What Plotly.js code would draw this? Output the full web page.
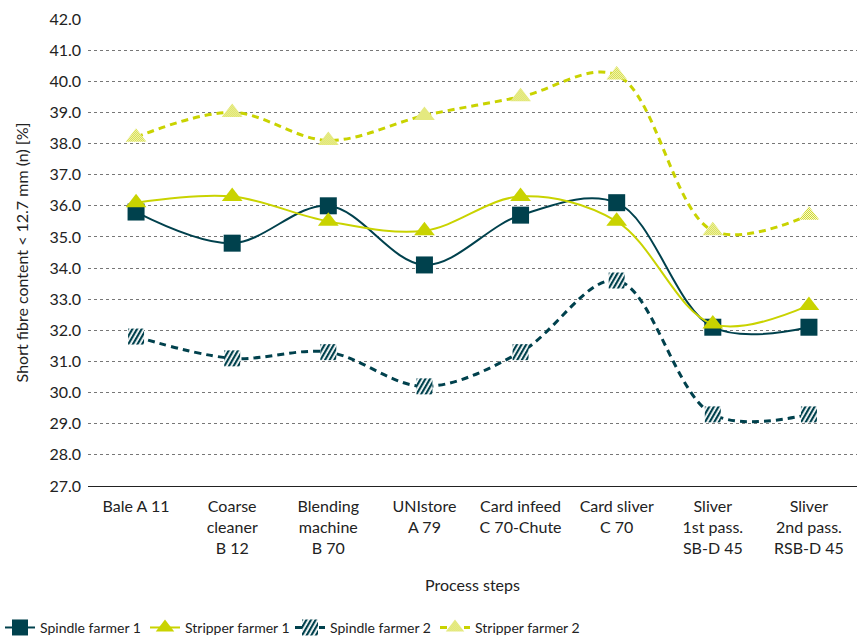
<!DOCTYPE html>
<html><head><meta charset="utf-8">
<script src="https://cdn.plot.ly/plotly-3.0.1.min.js"></script>
<style>html,body{margin:0;padding:0;background:#fff}#chart{width:864px;height:642px}</style>
</head><body>
<svg width="0" height="0" style="position:absolute">
  <defs>
    <pattern id="hatchTeal" patternUnits="userSpaceOnUse" width="4" height="4" patternTransform="rotate(30)">
      <rect x="0" y="0" width="4" height="4" fill="#ffffff"/>
      <rect x="0" y="0" width="2.2" height="4" fill="#00414d"/>
    </pattern>
    <pattern id="checkLime" patternUnits="userSpaceOnUse" width="2" height="2">
      <rect x="0" y="0" width="2" height="2" fill="#ffffff"/>
      <rect x="0" y="0" width="1" height="1" fill="#c9d300"/>
      <rect x="1" y="1" width="1" height="1" fill="#c9d300"/>
    </pattern>
  </defs>
</svg>
<div id="chart"></div>
<script>
const categories = ["Bale A 11","Coarse<br>cleaner<br>B 12","Blending<br>machine<br>B 70","UNIstore<br>A 79","Card infeed<br>C 70-Chute","Card sliver<br>C 70","Sliver<br>1st pass.<br>SB-D 45","Sliver<br>2nd pass.<br>RSB-D 45"];
const spindle1 = [35.8, 34.8, 36.0, 34.1, 35.7, 36.1, 32.1, 32.1];
const stripper1 = [36.1, 36.3, 35.5, 35.2, 36.3, 35.5, 32.2, 32.8];
const spindle2 = [31.8, 31.1, 31.3, 30.2, 31.3, 33.6, 29.3, 29.3];
const stripper2 = [38.2, 39.0, 38.1, 38.9, 39.5, 40.2, 35.2, 35.7];
const yTicks = [27,28,29,30,31,32,33,34,35,36,37,38,39,40,41,42];

const teal = "#00414d", lime = "#c9d300";
const font = "Lato, sans-serif";
const x = categories.map((c,i)=>i);

const traces = [
  {name:"Spindle farmer 1", x, y:spindle1, mode:"lines+markers",
   line:{color:teal,width:2,shape:"spline",smoothing:1},
   marker:{symbol:"square",size:17,color:teal}},
  {name:"Stripper farmer 1", x, y:stripper1, mode:"lines+markers",
   line:{color:lime,width:2,shape:"spline",smoothing:1},
   marker:{symbol:"triangle-up",size:18,color:lime}},
  {name:"Spindle farmer 2", x, y:spindle2, mode:"lines+markers",
   line:{color:teal,width:3,dash:"7px,5px",shape:"spline",smoothing:1},
   marker:{symbol:"square",size:16,color:"#7d9ea5"}},
  {name:"Stripper farmer 2", x, y:stripper2, mode:"lines+markers",
   line:{color:lime,width:3,dash:"7px,5px",shape:"spline",smoothing:1},
   marker:{symbol:"triangle-up",size:18,color:"#e4e98a"}}
];

const layout = {
  width:864, height:642,
  margin:{l:88,r:7,t:19,b:156},
  paper_bgcolor:"#fff", plot_bgcolor:"#fff",
  font:{family:font,size:16,color:"#222"},
  showlegend:true,
  legend:{orientation:"h",xref:"container",x:0,xanchor:"left",yref:"container",y:0.022,yanchor:"middle",
          font:{family:font,size:14,color:"#222"},entrywidth:100,traceorder:"normal"},
  xaxis:{tickmode:"array",tickvals:x,ticktext:categories,range:[-0.5,7.5],
         showgrid:false,zeroline:false,showline:true,linecolor:"#222",linewidth:1,
         ticks:"",tickfont:{size:16},ticklabelstandoff:6,
         title:{text:"Process steps",font:{size:16},standoff:24}},
  yaxis:{range:[27,42],tickmode:"array",tickvals:yTicks,ticktext:yTicks.map(v=>v.toFixed(1)),
         showgrid:true,gridcolor:"#777",griddash:"dot",gridwidth:1,zeroline:false,showline:false,
         ticks:"",ticklen:0,tickfont:{size:16},ticklabelstandoff:6,
         title:{text:"Short fibre content < 12.7 mm (n) [%]",font:{size:16},standoff:16}}
};

function applyPatterns(gd){
  const fills = {2:"url(#hatchTeal)", 3:"url(#checkLime)"};
  const traceGroups = gd.querySelectorAll(".scatterlayer .trace");
  const legendGroups = gd.querySelectorAll(".legend .traces");
  Object.keys(fills).forEach(k=>{
    const i = +k;
    if (traceGroups[i]) traceGroups[i].querySelectorAll(".points path").forEach(p=>{p.style.fill = fills[k];});
    if (legendGroups[i]) legendGroups[i].querySelectorAll(".legendpoints path.scatterpts").forEach(p=>{p.style.fill = fills[k];});
  });
}
Plotly.newPlot("chart",traces,layout,{displayModeBar:false,responsive:false}).then(applyPatterns);
</script></body></html>
